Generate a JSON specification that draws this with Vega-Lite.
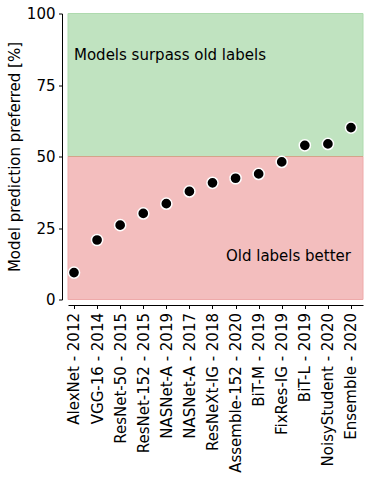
{
  "$schema": "https://vega.github.io/schema/vega-lite/v6.json",
  "autosize": "none",
  "width": 295,
  "height": 286,
  "padding": {"left": 68, "top": 13.5, "right": 11, "bottom": 181.5},
  "config": {
    "view": {"stroke": null},
    "font": "DejaVu Sans",
    "axis": {"grid": false, "domainColor": "#000000", "tickColor": "#000000", "labelColor": "#000000", "titleColor": "#000000", "domainWidth": 1, "tickWidth": 1, "labelFont": "DejaVu Sans", "titleFont": "DejaVu Sans", "labelFontSize": 15, "titleFontSize": 15, "titleFontWeight": "normal", "tickSize": 3.5, "labelPadding": 3.5}
  },
  "layer": [
    {
      "data": {"values": [
        {"zone": "surpass", "lo": 50, "hi": 100},
        {"zone": "old", "lo": 0, "hi": 50}
      ]},
      "mark": {"type": "rect", "strokeWidth": 1},
      "encoding": {
        "y": {"field": "lo", "type": "quantitative", "scale": {"domain": [0, 100], "nice": false}, "axis": {"values": [0, 25, 50, 75, 100], "offset": 6, "title": "Model prediction preferred [%]", "titlePadding": 4}},
        "y2": {"field": "hi"},
        "fill": {"field": "zone", "type": "nominal", "scale": {"domain": ["surpass", "old"], "range": ["#c0e3c0", "#f3bebe"]}, "legend": null},
        "stroke": {"field": "zone", "type": "nominal", "scale": {"domain": ["surpass", "old"], "range": ["#aedaae", "#eeaaaa"]}, "legend": null}
      }
    },
    {
      "data": {"values": [{"v": 50}]},
      "mark": {"type": "rule", "color": "#d4a48a", "strokeWidth": 1},
      "encoding": {"y": {"field": "v", "type": "quantitative"}}
    },
    {
      "data": {"values": [
        {"model": "AlexNet - 2012", "pct": 9.4},
        {"model": "VGG-16 - 2014", "pct": 20.8},
        {"model": "ResNet-50 - 2015", "pct": 26.0},
        {"model": "ResNet-152 - 2015", "pct": 30.1},
        {"model": "NASNet-A - 2019", "pct": 33.5},
        {"model": "NASNet-A - 2017", "pct": 37.8},
        {"model": "ResNeXt-IG - 2018", "pct": 40.8},
        {"model": "Assemble-152 - 2020", "pct": 42.4},
        {"model": "BiT-M - 2019", "pct": 43.9},
        {"model": "FixRes-IG - 2019", "pct": 48.1},
        {"model": "BiT-L - 2019", "pct": 53.9},
        {"model": "NoisyStudent - 2020", "pct": 54.4},
        {"model": "Ensemble - 2020", "pct": 60.1}
      ]},
      "mark": {"type": "circle", "size": 125, "color": "#000000", "opacity": 1, "stroke": "#ffffff", "strokeWidth": 1.5},
      "encoding": {
        "x": {"field": "model", "type": "nominal", "sort": null,
          "scale": {"type": "point", "padding": 0.39, "align": 0.333, "domain": ["AlexNet - 2012", "VGG-16 - 2014", "ResNet-50 - 2015", "ResNet-152 - 2015", "NASNet-A - 2019", "NASNet-A - 2017", "ResNeXt-IG - 2018", "Assemble-152 - 2020", "BiT-M - 2019", "FixRes-IG - 2019", "BiT-L - 2019", "NoisyStudent - 2020", "Ensemble - 2020"]},
          "axis": {"title": null, "labelAngle": -90, "offset": 5.5, "labelPadding": 4, "labelOverlap": false}},
        "y": {"field": "pct", "type": "quantitative"}
      }
    },
    {
      "data": {"values": [{"model": "AlexNet - 2012", "v": 85.5, "label": "Models surpass old labels"}]},
      "mark": {"type": "text", "align": "left", "baseline": "middle", "fontSize": 15, "font": "DejaVu Sans", "color": "#000000"},
      "encoding": {
        "x": {"field": "model", "type": "nominal"},
        "y": {"field": "v", "type": "quantitative"},
        "text": {"field": "label"}
      }
    },
    {
      "data": {"values": [{"model": "Ensemble - 2020", "v": 15.2, "label": "Old labels better"}]},
      "mark": {"type": "text", "align": "right", "baseline": "middle", "fontSize": 15, "font": "DejaVu Sans", "color": "#000000"},
      "encoding": {
        "x": {"field": "model", "type": "nominal"},
        "y": {"field": "v", "type": "quantitative"},
        "text": {"field": "label"}
      }
    }
  ]
}
